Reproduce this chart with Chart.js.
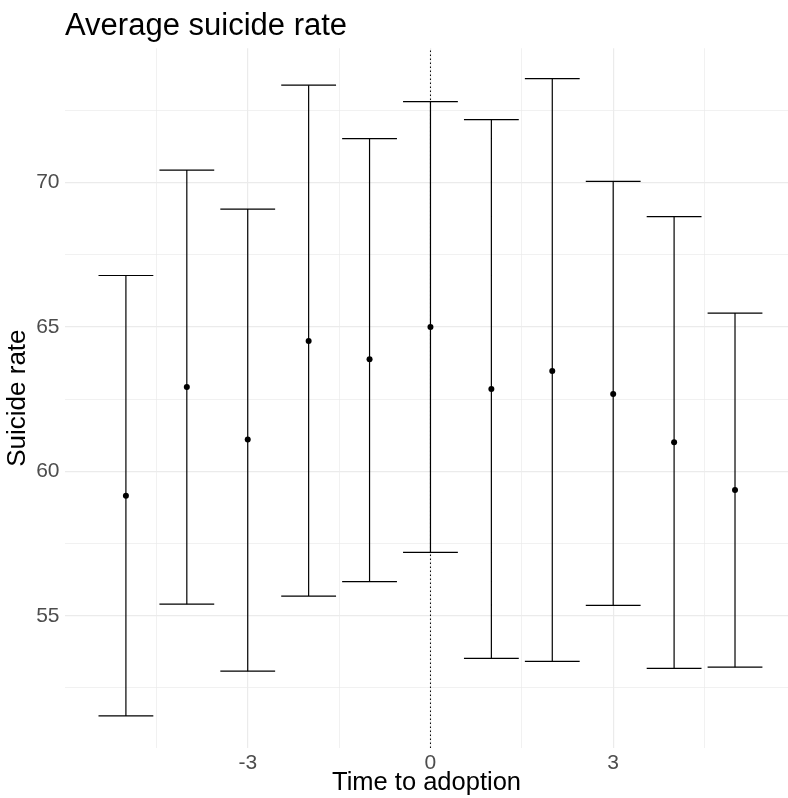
<!DOCTYPE html>
<html>
<head>
<meta charset="utf-8">
<script src="https://cdn.jsdelivr.net/npm/chart.js@4.4.0/dist/chart.umd.min.js"></script>
<style>
  html, body { margin: 0; padding: 0; background: #ffffff; }
  #wrap { width: 788px; height: 798px; }
</style>
</head>
<body>
<div id="wrap"><canvas id="c" width="788" height="798"></canvas></div>
<script>
// ---- Data ----
const timeToAdoption = [-5, -4, -3, -2, -1, 0, 1, 2, 3, 4, 5];
const meanRate  = [59.15, 62.92, 61.10, 64.51, 63.88, 65.00, 62.85, 63.47, 62.68, 61.01, 59.35];
const upperRate = [66.78, 70.43, 69.08, 73.37, 71.52, 72.80, 72.18, 73.60, 70.04, 68.82, 65.48];
const lowerRate = [51.53, 55.40, 53.08, 55.68, 56.18, 57.19, 53.52, 53.42, 55.36, 53.18, 53.22];
const xTickValues = [-4.5, -3, -1.5, 0, 1.5, 3, 4.5];
const xTickLabels = ['', '-3', '', '0', '', '3', ''];
const yTickValues = [52.5, 55, 57.5, 60, 62.5, 65, 67.5, 70, 72.5];
const yTickLabels = ['', '55', '', '60', '', '65', '', '70', ''];
const adoptionTime = 0;

// ---- Layout / style constants ----
const X_MIN = -6.0, X_MAX = 5.87;
const Y_MIN = 50.42, Y_MAX = 74.65;
const CAP_HALF = 0.45;
const FONT = "'Liberation Sans', Arial, Helvetica, sans-serif";

// Build error bar segments from the data arrays
const stems = [];
const caps = [];
timeToAdoption.forEach((t, i) => {
  stems.push({x: t, y: lowerRate[i]}, {x: t, y: upperRate[i]}, {x: t, y: null});
  caps.push({x: t - CAP_HALF, y: upperRate[i]}, {x: t + CAP_HALF, y: upperRate[i]}, {x: t, y: null});
  caps.push({x: t - CAP_HALF, y: lowerRate[i]}, {x: t + CAP_HALF, y: lowerRate[i]}, {x: t, y: null});
});
const points = timeToAdoption.map((t, i) => ({x: t, y: meanRate[i]}));
const vline = [{x: adoptionTime, y: Y_MIN}, {x: adoptionTime, y: Y_MAX}];

const gridWidth = (ctx, labels, values) => {
  if (!ctx.tick) return 0;
  const idx = values.indexOf(ctx.tick.value);
  return (idx >= 0 && labels[idx] !== '') ? 1.2 : 0.7;
};

new Chart(document.getElementById('c'), {
  type: 'scatter',
  data: {
    datasets: [
      { data: vline, showLine: true, borderColor: '#000000', borderWidth: 1,
        borderDash: [1.5, 2.5], pointRadius: 0, order: 4 },
      { data: stems, showLine: true, spanGaps: false, borderColor: '#000000', borderWidth: 1.2,
        pointRadius: 0, order: 3 },
      { data: caps, showLine: true, spanGaps: false, borderColor: '#000000', borderWidth: 1.2,
        pointRadius: 0, order: 2 },
      { data: points, showLine: false, pointRadius: 3, backgroundColor: '#000000',
        borderWidth: 0, order: 1 }
    ]
  },
  options: {
    responsive: false,
    devicePixelRatio: 1,
    animation: false,
    events: [],
    layout: { autoPadding: false, padding: { left: 0, right: 0, top: 0, bottom: 0 } },
    plugins: {
      legend: { display: false },
      tooltip: { enabled: false },
      title: {
        display: true,
        text: 'Average suicide rate',
        align: 'start',
        fullSize: false,
        color: '#000000',
        font: { family: FONT, size: 31, weight: 'normal', lineHeight: 1.2 },
        padding: { top: 8, bottom: 3 }
      }
    },
    scales: {
      x: {
        type: 'linear',
        min: X_MIN, max: X_MAX,
        bounds: 'data',
        afterBuildTicks: (scale) => { scale.ticks = xTickValues.map(v => ({value: v})); },
        afterFit: (scale) => { scale.height = 50; },
        ticks: {
          autoSkip: false, maxRotation: 0, padding: 3,
          color: '#4D4D4D',
          font: { family: FONT, size: 21 },
          callback: (v) => { const i = xTickValues.indexOf(v); return i >= 0 ? xTickLabels[i] : ''; }
        },
        grid: {
          color: '#EBEBEB',
          lineWidth: (ctx) => gridWidth(ctx, xTickLabels, xTickValues),
          drawTicks: false
        },
        border: { display: false },
        title: {
          display: true, text: 'Time to adoption', color: '#000000',
          font: { family: FONT, size: 25.5, lineHeight: 1.2 },
          padding: { top: 0, bottom: 0 }
        }
      },
      y: {
        type: 'linear',
        min: Y_MIN, max: Y_MAX,
        bounds: 'data',
        afterBuildTicks: (scale) => { scale.ticks = yTickValues.map(v => ({value: v})); },
        afterFit: (scale) => { scale.width = 65; },
        ticks: {
          autoSkip: false, padding: 5.5,
          color: '#4D4D4D',
          font: { family: FONT, size: 21 },
          callback: (v) => { const i = yTickValues.indexOf(v); return i >= 0 ? yTickLabels[i] : ''; }
        },
        grid: {
          color: '#EBEBEB',
          lineWidth: (ctx) => gridWidth(ctx, yTickLabels, yTickValues),
          drawTicks: false
        },
        border: { display: false },
        title: {
          display: true, text: 'Suicide rate', color: '#000000',
          font: { family: FONT, size: 26, lineHeight: 1.2 },
          padding: { top: 2, bottom: 0 }
        }
      }
    }
  }
});
</script>
</body>
</html>
